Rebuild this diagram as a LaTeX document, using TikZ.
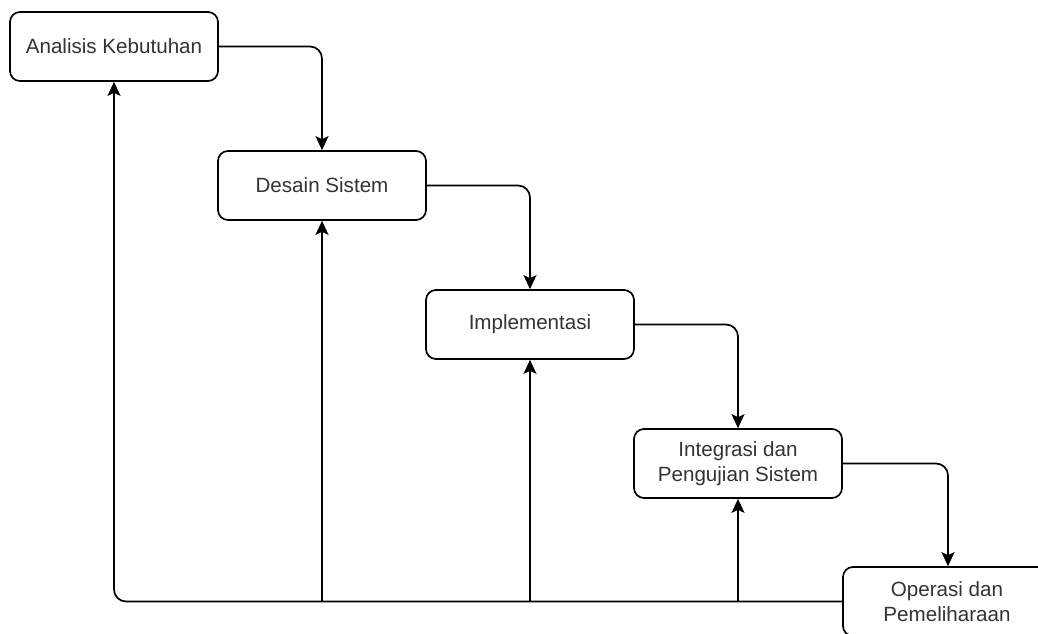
\documentclass[tikz,border=0pt]{standalone}
\usepackage{fontspec}
\setmainfont{Liberation Sans}
\usetikzlibrary{arrows.meta}
\definecolor{txt}{HTML}{333333}
\tikzset{
  stage/.style={draw=black, line width=1.7pt, rounded corners=10pt, fill=white,
    minimum width=208pt, minimum height=69pt, inner sep=0pt, align=center,
    text=txt, font=\fontsize{20.6}{24.5}\selectfont},
  flow/.style={draw=black, line width=1.7pt, rounded corners=12pt,
    -{Stealth[length=14pt, width=13pt, inset=3pt]}},
  back/.style={draw=black, line width=1.7pt,
    -{Stealth[length=14pt, width=13pt, inset=3pt]}}
}
\begin{document}
\begin{tikzpicture}[x=1pt, y=-1pt]
\path[use as bounding box] (0,0) rectangle (1038,633);
\clip (0,0) rectangle (1038,633);
\fill[white] (0,0) rectangle (1038,633);
\node[stage] (a) at (114,46.5) {Analisis Kebutuhan};
\node[stage] (b) at (322,185.5) {Desain Sistem};
\node[stage] (c) at (530,324.5) {Implementasi};
\node[stage] (d) at (738,463.5) {Integrasi dan\\Pengujian Sistem};
\node[stage] (e) at (947,601.5) {Operasi dan\\Pemeliharaan};
% forward flow
\draw[flow] (a.east) -| (b.north);
\draw[flow] (b.east) -| (c.north);
\draw[flow] (c.east) -| (d.north);
\draw[flow] (d.east) -| ([xshift=1pt]e.north);
% feedback
\draw[flow] (e.west) -| (a.south);
\coordinate (jb) at (b.south |- e.west);
\coordinate (jc) at (c.south |- e.west);
\coordinate (jd) at (d.south |- e.west);
\draw[back] (jb) -- (b.south);
\draw[back] (jc) -- (c.south);
\draw[back] (jd) -- (d.south);
\end{tikzpicture}
\end{document}
